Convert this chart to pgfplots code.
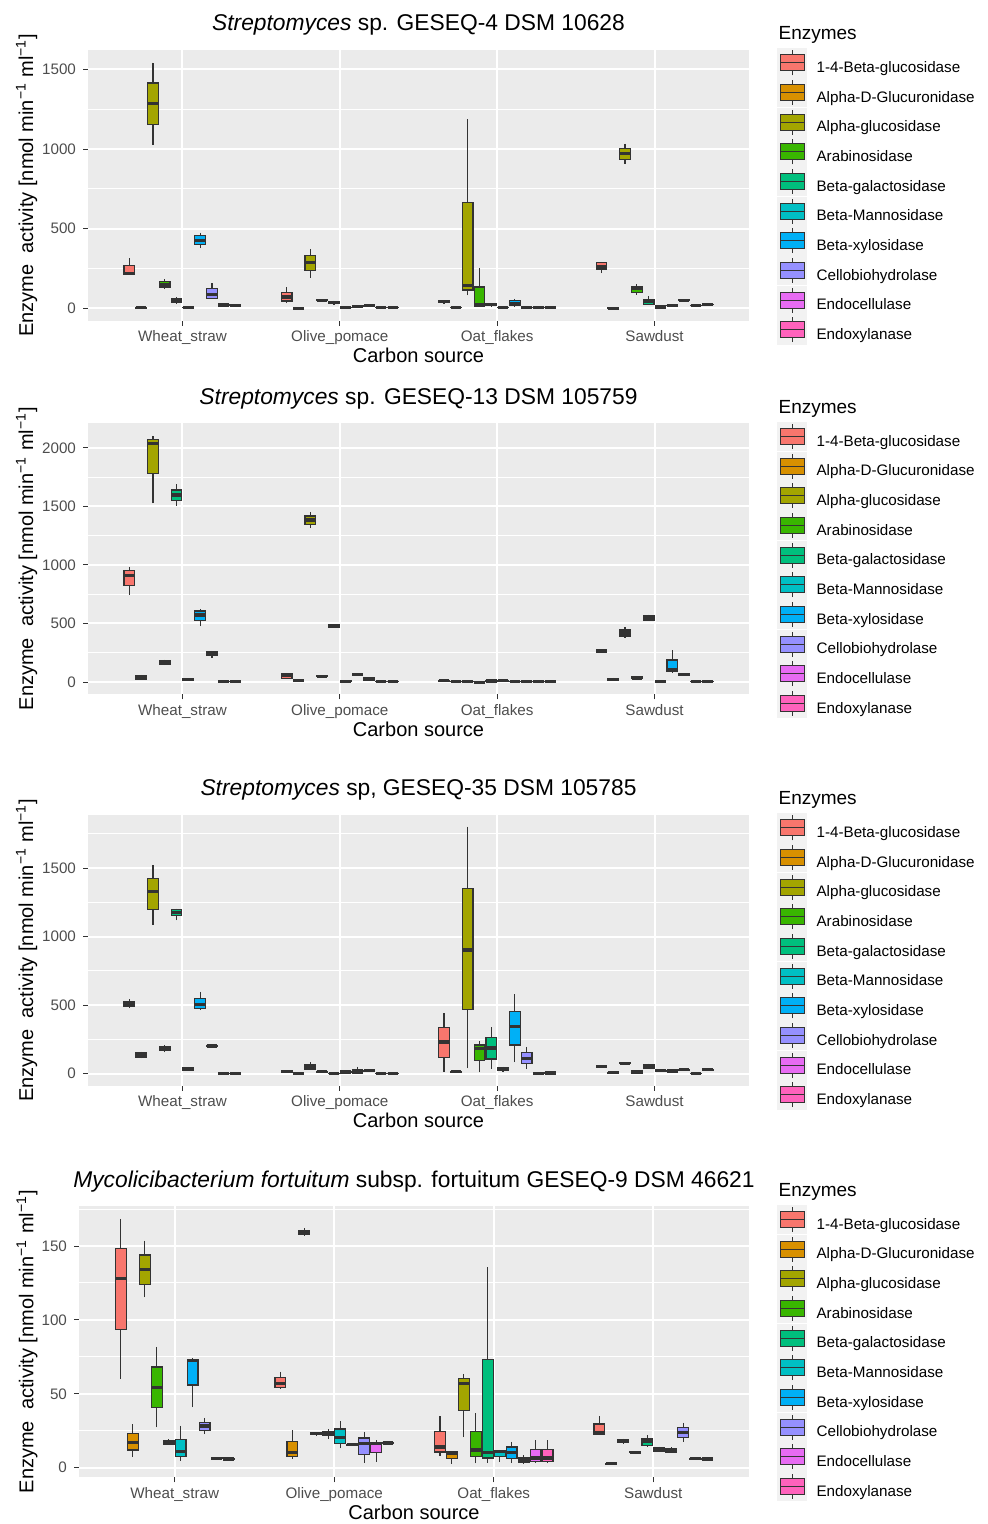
\documentclass[border=0pt]{standalone}
\usepackage{fontspec}
\setmainfont{Liberation Sans}
\usepackage{pgfplots}
\pgfplotsset{compat=1.18}
\usepgfplotslibrary{statistics}
\definecolor{e0}{HTML}{F8766D}
\definecolor{e1}{HTML}{D89000}
\definecolor{e2}{HTML}{A3A500}
\definecolor{e3}{HTML}{39B600}
\definecolor{e4}{HTML}{00BF7D}
\definecolor{e5}{HTML}{00BFC4}
\definecolor{e6}{HTML}{00B0F6}
\definecolor{e7}{HTML}{9590FF}
\definecolor{e8}{HTML}{E76BF3}
\definecolor{e9}{HTML}{FF62BC}
\definecolor{bgc}{HTML}{EBEBEB}
\definecolor{g20}{HTML}{333333}
\definecolor{g30}{HTML}{4D4D4D}
\definecolor{kbg}{HTML}{F2F2F2}

% box: category, enzyme, lower whisker, lower quartile, median, upper quartile, upper whisker
\newcommand\bx[7]{%
  \pgfmathsetmacro\bxpos{#1+(#2-4.5)*0.075}%
  \edef\bxcmd{\noexpand\addplot[fill=e#2, draw=g20, line width=0.6pt,
    boxplot prepared={draw position=\bxpos, lower whisker=#3, lower quartile=#4,
    median=#5, upper quartile=#6, upper whisker=#7}] coordinates {};}%
  \bxcmd}

\pgfplotsset{
  keybox/.style={legend image code/.code={
    \fill[kbg] (0pt,-4.3pt) rectangle (14.2pt,9.9pt);
    \draw[g20, line width=0.5pt] (7.1pt,-3.4pt) -- (7.1pt,9.0pt);
    \filldraw[fill=#1, draw=g20, line width=0.5pt] (1.1pt,-1.2pt) rectangle (13.1pt,6.8pt);
    \draw[g20, line width=0.5pt] (1.1pt,2.8pt) -- (13.1pt,2.8pt);
  }},
  panel/.style={
    scale only axis, width=330.5pt, height=135.5pt, anchor=south west,
    xmin=0.4, xmax=4.6,
    xtick={1,2,3,4}, xticklabels={Wheat\_straw,Olive\_pomace,Oat\_flakes,Sawdust},
    xtick pos=left, ytick pos=left,
    axis line style={draw=none},
    axis background/.style={fill=bgc},
    xmajorgrids, ymajorgrids, yminorgrids,
    major grid style={white, line width=1pt},
    minor grid style={white, line width=0.5pt},
    tick align=outside, major tick length=2.5pt, minor tick length=0pt,
    tick style={g20, line width=0.5pt},
    tick label style={font=\fontsize{7.6}{9}\selectfont, color=g30},
    xticklabel style={yshift=1pt},
    /pgf/number format/assume math mode=true,
    /pgf/number format/1000 sep={},
    scaled y ticks=false,
    xlabel={Carbon source},
    ylabel={Enzyme\ \ activity [nmol min\textsuperscript{−1} ml\textsuperscript{−1}]},
    label style={font=\fontsize{9.5}{11}\selectfont},
    every axis x label/.style={at={(axis description cs:0.5,0)}, anchor=base, yshift=-21pt},
    every axis y label/.style={at={([xshift=-27.5pt]axis description cs:0,0.5)}, rotate=90, anchor=base},
    every axis title/.style={at={(axis description cs:0.5,1)}, anchor=base, yshift=9.6pt, font=\fontsize{11.4}{13}\selectfont},
    clip=false,
    legend cell align=left,
    legend style={at={(axis description cs:1,1)}, anchor=north west, xshift=14.2pt, yshift=0.7pt,
      draw=none, fill=none, inner sep=0pt, outer sep=0pt, row sep=0.23pt, column sep=5pt,
      font=\fontsize{7.6}{9}\selectfont, nodes={inner sep=0pt}},
    boxplot/draw direction=y,
    boxplot/box extend=0.0675,
    boxplot/whisker extend=0,
    boxplot/every median/.style={line width=1.6pt},
  }
}

\newcommand\enzleg{%
  \addlegendimage{keybox=e0}\addlegendentry{1-4-Beta-glucosidase}
  \addlegendimage{keybox=e1}\addlegendentry{Alpha-D-Glucuronidase}
  \addlegendimage{keybox=e2}\addlegendentry{Alpha-glucosidase}
  \addlegendimage{keybox=e3}\addlegendentry{Arabinosidase}
  \addlegendimage{keybox=e4}\addlegendentry{Beta-galactosidase}
  \addlegendimage{keybox=e5}\addlegendentry{Beta-Mannosidase}
  \addlegendimage{keybox=e6}\addlegendentry{Beta-xylosidase}
  \addlegendimage{keybox=e7}\addlegendentry{Cellobiohydrolase}
  \addlegendimage{keybox=e8}\addlegendentry{Endocellulase}
  \addlegendimage{keybox=e9}\addlegendentry{Endoxylanase}
  \node[anchor=base west, inner sep=0pt, font=\fontsize{9.5}{11}\selectfont] at ([xshift=14.6pt, yshift=5pt]axis description cs:1,1) {Enzymes};
}

\begin{document}
\begin{tikzpicture}
\path[use as bounding box] (0,0) rectangle (493.5pt,762pt);

% ---------------- Panel 1 ----------------
\begin{axis}[panel, at={(44pt,601.65pt)},
  ymin=-77.5, ymax=1624, ytick={0,500,1000,1500}, minor ytick={250,750,1250},
  title={\textit{Streptomyces} sp. GESEQ-4 DSM 10628}]
\enzleg
\bx{1}{0}{210}{213}{219}{267}{313}
\bx{1}{1}{0}{2}{3}{5}{6}
\bx{1}{2}{1028}{1154}{1285}{1415}{1542}
\bx{1}{3}{123}{134}{150}{167}{182}
\bx{1}{4}{31}{36}{50}{63}{71}
\bx{1}{5}{3}{5}{6}{7}{9}
\bx{1}{6}{378}{401}{426}{456}{476}
\bx{1}{7}{59}{63}{88}{123}{157}
\bx{1}{8}{19}{20}{21}{22}{24}
\bx{1}{9}{17}{18}{19}{20}{22}
\bx{2}{0}{31}{46}{71}{100}{132}
\bx{2}{1}{-2}{0}{1}{2}{3}
\bx{2}{2}{192}{236}{286}{332}{374}
\bx{2}{3}{46}{48}{50}{53}{55}
\bx{2}{4}{26}{29}{38}{44}{48}
\bx{2}{5}{2}{3}{4}{5}{6}
\bx{2}{6}{9}{10}{12}{14}{15}
\bx{2}{7}{14}{15}{17}{19}{20}
\bx{2}{8}{4}{5}{6}{7}{8}
\bx{2}{9}{4}{5}{6}{7}{8}
\bx{3}{0}{33}{36}{44}{50}{52}
\bx{3}{1}{2}{3}{4}{5}{6}
\bx{3}{2}{82}{115}{142}{665}{1187}
\bx{3}{3}{10}{10}{21}{134}{251}
\bx{3}{4}{15}{17}{23}{28}{31}
\bx{3}{5}{4}{5}{6}{7}{8}
\bx{3}{6}{10}{17}{27}{48}{61}
\bx{3}{7}{2}{3}{4}{5}{6}
\bx{3}{8}{4}{5}{6}{7}{8}
\bx{3}{9}{4}{5}{6}{7}{8}
\bx{4}{0}{219}{247}{265}{290}{292}
\bx{4}{1}{-1}{0}{1}{2}{3}
\bx{4}{2}{905}{936}{972}{1005}{1034}
\bx{4}{3}{86}{100}{123}{138}{150}
\bx{4}{4}{21}{25}{42}{56}{79}
\bx{4}{5}{6}{7}{8}{9}{10}
\bx{4}{6}{17}{18}{19}{20}{21}
\bx{4}{7}{44}{47}{50}{53}{56}
\bx{4}{8}{17}{18}{19}{20}{21}
\bx{4}{9}{21}{22}{23}{24}{25}
\end{axis}

% ---------------- Panel 2 ----------------
\begin{axis}[panel, at={(44pt,414.85pt)},
  ymin=-105, ymax=2211, ytick={0,500,1000,1500,2000}, minor ytick={250,750,1250,1750},
  title={\textit{Streptomyces} sp. GESEQ-13 DSM 105759}]
\enzleg
\bx{1}{0}{744}{823}{909}{952}{986}
\bx{1}{1}{23}{26}{40}{51}{60}
\bx{1}{2}{1527}{1783}{2040}{2074}{2103}
\bx{1}{3}{145}{154}{171}{182}{191}
\bx{1}{4}{1507}{1550}{1598}{1641}{1689}
\bx{1}{5}{14}{17}{23}{28}{30}
\bx{1}{6}{476}{527}{573}{607}{624}
\bx{1}{7}{205}{225}{242}{259}{268}
\bx{1}{8}{0}{1}{3}{4}{5}
\bx{1}{9}{0}{1}{3}{4}{5}
\bx{2}{0}{26}{31}{54}{68}{77}
\bx{2}{1}{6}{8}{11}{13}{15}
\bx{2}{2}{1316}{1348}{1385}{1419}{1450}
\bx{2}{3}{42}{45}{48}{51}{54}
\bx{2}{4}{462}{467}{479}{487}{492}
\bx{2}{5}{2}{4}{6}{8}{9}
\bx{2}{6}{60}{63}{66}{69}{72}
\bx{2}{7}{14}{17}{26}{37}{40}
\bx{2}{8}{0}{1}{3}{4}{5}
\bx{2}{9}{0}{1}{3}{4}{5}
\bx{3}{0}{7}{9}{11}{13}{15}
\bx{3}{1}{0}{1}{3}{4}{5}
\bx{3}{2}{0}{1}{3}{4}{5}
\bx{3}{3}{-4}{-3}{-2}{0}{1}
\bx{3}{4}{5}{7}{9}{11}{13}
\bx{3}{5}{7}{9}{11}{13}{15}
\bx{3}{6}{0}{1}{3}{4}{5}
\bx{3}{7}{0}{1}{3}{4}{5}
\bx{3}{8}{0}{1}{3}{4}{5}
\bx{3}{9}{0}{1}{3}{4}{5}
\bx{4}{0}{259}{261}{265}{270}{272}
\bx{4}{1}{11}{14}{23}{31}{37}
\bx{4}{2}{373}{393}{419}{444}{470}
\bx{4}{3}{26}{28}{34}{43}{46}
\bx{4}{4}{524}{530}{550}{567}{575}
\bx{4}{5}{2}{4}{6}{8}{9}
\bx{4}{6}{80}{88}{103}{188}{273}
\bx{4}{7}{54}{57}{63}{71}{74}
\bx{4}{8}{0}{1}{3}{4}{5}
\bx{4}{9}{0}{1}{3}{4}{5}
\end{axis}

% ---------------- Panel 3 ----------------
\begin{axis}[panel, at={(44pt,219.15pt)},
  ymin=-88, ymax=1890, ytick={0,500,1000,1500}, minor ytick={250,750,1250,1750},
  title={\textit{Streptomyces} sp, GESEQ-35 DSM 105785}]
\enzleg
\bx{1}{0}{477}{489}{509}{528}{543}
\bx{1}{1}{112}{122}{139}{156}{161}
\bx{1}{2}{1086}{1200}{1327}{1427}{1524}
\bx{1}{3}{156}{168}{183}{200}{209}
\bx{1}{4}{1118}{1152}{1178}{1198}{1205}
\bx{1}{5}{24}{25}{37}{46}{50}
\bx{1}{6}{463}{477}{502}{550}{599}
\bx{1}{7}{195}{197}{202}{207}{209}
\bx{1}{8}{0}{1}{2}{3}{4}
\bx{1}{9}{0}{1}{2}{3}{4}
\bx{2}{0}{10}{12}{15}{19}{21}
\bx{2}{1}{0}{1}{2}{3}{4}
\bx{2}{2}{27}{34}{51}{68}{83}
\bx{2}{3}{10}{12}{15}{18}{20}
\bx{2}{4}{0}{1}{2}{3}{4}
\bx{2}{5}{8}{10}{12}{14}{16}
\bx{2}{6}{0}{0}{12}{32}{51}
\bx{2}{7}{17}{19}{22}{25}{27}
\bx{2}{8}{0}{1}{2}{3}{4}
\bx{2}{9}{0}{1}{2}{3}{4}
\bx{3}{0}{15}{119}{231}{338}{443}
\bx{3}{1}{10}{12}{15}{18}{20}
\bx{3}{2}{39}{470}{903}{1351}{1802}
\bx{3}{3}{10}{93}{183}{209}{239}
\bx{3}{4}{34}{107}{187}{263}{338}
\bx{3}{5}{10}{22}{34}{46}{51}
\bx{3}{6}{83}{209}{343}{455}{579}
\bx{3}{7}{32}{73}{112}{153}{195}
\bx{3}{8}{-2}{-1}{0}{1}{2}
\bx{3}{9}{2}{3}{5}{7}{8}
\bx{4}{0}{46}{48}{51}{54}{56}
\bx{4}{1}{3}{5}{7}{9}{10}
\bx{4}{2}{70}{72}{75}{78}{80}
\bx{4}{3}{3}{5}{12}{20}{22}
\bx{4}{4}{34}{39}{56}{68}{73}
\bx{4}{5}{19}{21}{24}{27}{29}
\bx{4}{6}{14}{16}{19}{22}{24}
\bx{4}{7}{24}{26}{29}{32}{34}
\bx{4}{8}{-2}{0}{1}{2}{3}
\bx{4}{9}{24}{26}{29}{32}{34}
\end{axis}

% ---------------- Panel 4 ----------------
\begin{axis}[panel, at={(39.5pt,23.35pt)}, width=335pt,
  every axis y label/.style={at={([xshift=-22.8pt]axis description cs:0,0.5)}, rotate=90, anchor=base},
  ymin=-6.5, ymax=176.9, ytick={0,50,100,150}, minor ytick={25,75,125,175},
  title={\textit{Mycolicibacterium fortuitum} subsp. fortuitum GESEQ-9 DSM 46621}]
\enzleg
\bx{1}{0}{59.9}{93.5}{127.9}{148.6}{168.5}
\bx{1}{1}{7.2}{12.0}{17.2}{23.0}{29.4}
\bx{1}{2}{115.2}{124.2}{134.2}{143.9}{153.6}
\bx{1}{3}{27.3}{40.9}{54.4}{68.2}{81.8}
\bx{1}{4}{15.4}{15.8}{17.2}{18.3}{19.2}
\bx{1}{5}{4.7}{7.5}{10.8}{19.2}{28.5}
\bx{1}{6}{40.9}{56.0}{72.5}{73.2}{73.9}
\bx{1}{7}{22.6}{25.1}{28.2}{30.7}{33.9}
\bx{1}{8}{5.8}{6.0}{6.3}{6.6}{6.8}
\bx{1}{9}{5.4}{5.6}{5.9}{6.2}{6.4}
\bx{2}{0}{53.1}{54.2}{56.9}{61.2}{65.1}
\bx{2}{1}{5.9}{7.5}{10.2}{17.6}{25.5}
\bx{2}{2}{157.0}{157.9}{159.3}{160.6}{162.0}
\bx{2}{3}{22.0}{22.4}{23.0}{23.7}{24.0}
\bx{2}{4}{19.4}{21.7}{23.0}{24.2}{26.0}
\bx{2}{5}{13.1}{16.5}{20.3}{26.2}{31.6}
\bx{2}{6}{15.2}{15.4}{15.6}{15.9}{16.1}
\bx{2}{7}{3.4}{9.0}{16.5}{20.1}{24.4}
\bx{2}{8}{4.1}{10.2}{16.5}{17.2}{18.7}
\bx{2}{9}{15.8}{16.2}{16.7}{17.2}{18.0}
\bx{3}{0}{7.9}{10.6}{14.0}{24.4}{35.0}
\bx{3}{1}{2.7}{6.3}{9.9}{10.8}{10.8}
\bx{3}{2}{20.6}{38.6}{57.2}{60.5}{63.5}
\bx{3}{3}{2.9}{7.7}{12.0}{24.4}{36.8}
\bx{3}{4}{3.4}{6.6}{10.2}{73.0}{135.5}
\bx{3}{5}{4.1}{7.7}{10.8}{11.5}{12.0}
\bx{3}{6}{3.4}{6.3}{10.2}{14.0}{17.6}
\bx{3}{7}{2.7}{3.4}{5.2}{7.0}{8.6}
\bx{3}{8}{3.4}{4.3}{6.6}{12.4}{18.5}
\bx{3}{9}{2.9}{4.3}{6.5}{12.4}{18.5}
\bx{4}{0}{22.1}{22.6}{23.5}{29.6}{35.0}
\bx{4}{1}{2.3}{2.5}{2.7}{2.9}{3.1}
\bx{4}{2}{16.3}{17.2}{18.3}{19.0}{19.7}
\bx{4}{3}{9.9}{10.1}{10.4}{10.9}{11.2}
\bx{4}{4}{14.2}{14.9}{17.6}{19.4}{22.1}
\bx{4}{5}{10.8}{10.8}{12.2}{13.3}{14.2}
\bx{4}{6}{10.2}{10.2}{11.5}{12.9}{13.8}
\bx{4}{7}{17.6}{20.6}{23.9}{27.3}{30.5}
\bx{4}{8}{5.7}{5.9}{6.1}{6.3}{6.5}
\bx{4}{9}{5.5}{5.7}{5.9}{6.1}{6.3}
\end{axis}
\end{tikzpicture}
\end{document}
